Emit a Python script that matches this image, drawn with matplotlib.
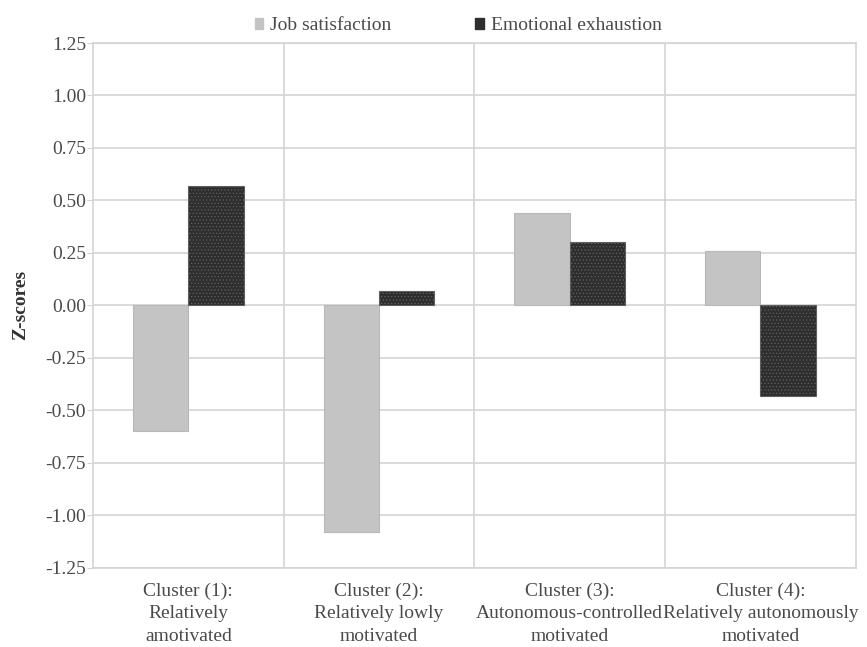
import numpy as np
import matplotlib
matplotlib.use('Agg')
import matplotlib.pyplot as plt
from matplotlib.patches import Patch

# Data ~~~~~~~~~~~~~~~~~~~~~~~~~~~~~~~~~~~~~~~~~~~~~~~~~~~~~~~~~~~~~~~~~~~~~~~~~~~~
clusters = ['Cluster (1):\nRelatively\namotivated',
            'Cluster (2):\nRelatively lowly\nmotivated',
            'Cluster (3):\nAutonomous-controlled\nmotivated',
            'Cluster (4):\nRelatively autonomously\nmotivated']
job_sat = [-0.60, -1.08, 0.44, 0.26]
emo_exh = [0.57, 0.07, 0.30, -0.43]
yticks = [-1.25, -1.00, -0.75, -0.50, -0.25, 0.00, 0.25, 0.50, 0.75, 1.00, 1.25]

# Style ~~~~~~~~~~~~~~~~~~~~~~~~~~~~~~~~~~~~~~~~~~~~~~~~~~~~~~~~~~~~~~~~~~~~~~~~~~~
plt.rcParams['font.family'] = ['Liberation Serif', 'DejaVu Serif']
plt.rcParams['hatch.linewidth'] = 0.5
txt = '#4a4a4a'
grid = '#d4d4d4'

fig = plt.figure(figsize=(8.67, 6.47), dpi=100)
ax = fig.add_axes([0.1073, 0.1226, 0.8797, 0.8109])

x = np.arange(len(clusters))
w = 0.29
ax.bar(x - w / 2, job_sat, w, color='#c4c4c4', edgecolor='#b8b8b8', linewidth=0.8, zorder=3)
ax.bar(x + w / 2, emo_exh, w, color='#2e2e2e', edgecolor='#606060', hatch='.....',
       linewidth=0.8, zorder=3)

ax.set_xlim(-0.5, 3.5)
ax.set_ylim(-1.25, 1.25)
ax.set_yticks(yticks)
ax.set_yticklabels(['%.2f' % v for v in yticks])
ax.set_xticks(x)
ax.set_xticklabels(clusters, linespacing=1.4)
ax.set_xticks([0.5, 1.5, 2.5], minor=True)
ax.tick_params(axis='x', which='both', length=0, pad=11, labelsize=14, labelcolor=txt)
ax.tick_params(axis='y', length=4, color=grid, pad=1, labelsize=14, labelcolor=txt)
ax.grid(axis='y', color=grid, linewidth=1.2, zorder=0)
ax.grid(axis='x', which='minor', color=grid, linewidth=1.2, zorder=0)
for s in ax.spines.values():
    s.set_color(grid)
    s.set_linewidth(1.2)

ax.set_ylabel('Z-scores', fontsize=14, fontweight='bold', color='#333333', labelpad=12)

handles = [Patch(facecolor='#c4c4c4', edgecolor='#c4c4c4', label='Job satisfaction'),
           Patch(facecolor='#2e2e2e', edgecolor='#2e2e2e', label='Emotional exhaustion')]
leg = fig.legend(handles=handles, loc='center', bbox_to_anchor=(458 / 867, 1 - 26 / 647),
                 ncol=2, frameon=False, fontsize=14, handlelength=0.45, handleheight=0.45,
                 handletextpad=0.35, columnspacing=4.3, labelcolor=txt)

fig.savefig('out.png', dpi=100)
